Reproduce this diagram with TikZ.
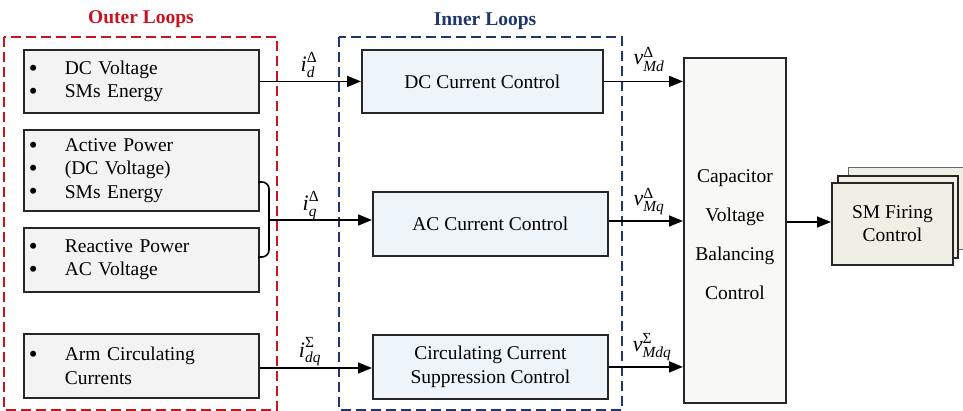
\documentclass[tikz,border=0pt]{standalone}
\usepackage{amsmath}
\usepackage{fontspec}
\setmainfont{Liberation Serif}
\usetikzlibrary{arrows.meta,calc}
\definecolor{loopred}{RGB}{200,20,30}
\definecolor{loopblue}{RGB}{30,55,110}
\definecolor{outerfill}{RGB}{243,243,243}
\definecolor{innerfill}{RGB}{238,245,250}
\definecolor{capfill}{RGB}{248,248,246}
\definecolor{smfill}{RGB}{240,239,230}
\begin{document}
\begin{tikzpicture}[x=1pt,y=-1pt,
  every node/.style={font=\fontsize{19.5}{23.3}\selectfont},
  outerbox/.style={draw=black!85,line width=1.8pt,fill=outerfill,minimum width=235pt,
     text width=225pt,inner xsep=5pt,align=left,anchor=north west},
  innerbox/.style={draw=black!85,line width=1.8pt,fill=innerfill,align=center,anchor=north west},
  smbox/.style={draw=black!85,line width=1.8pt,fill=smfill,anchor=north west,minimum width=121pt,minimum height=82pt},
  loopframe/.style={dash pattern=on 10pt off 5pt,line width=1.7pt},
  arr/.style={-{Triangle[length=14pt,width=11pt]},line width=1.6pt,black},
  conn/.style={line width=1.6pt,black},
  sig/.style={anchor=base,inner sep=0pt,font=\fontsize{22}{26}\selectfont},
  title/.style={font=\fontsize{19.5}{23}\selectfont\bfseries}]
\useasboundingbox (0,0) rectangle (963,411);

% loop frames
\draw[loopframe,loopred] (4,37) rectangle (277,410);
\draw[loopframe,loopblue] (339,37) rectangle (622,410);
\node[title,text=loopred] (tout) at (141,19) {Outer Loops};
\node[title,text=loopblue] (tin) at (485,21) {Inner Loops};

% outer loop boxes
\newcommand{\bl}{\makebox[36pt][l]{\smash{\raisebox{-1.6pt}{\fontsize{25}{23}\selectfont\textbullet}}}}
\node[outerbox,minimum height=63pt] (b1) at (23,49)
  {\bl DC Voltage\\\bl SMs Energy};
\node[outerbox,minimum height=81pt] (b2) at (23,129)
  {\bl Active Power\\\bl (DC Voltage)\\\bl SMs Energy};
\node[outerbox,minimum height=64pt] (b3) at (23,227)
  {\bl Reactive Power\\\bl AC Voltage};
\node[outerbox,minimum height=64pt] (b4) at (23,333)
  {\bl Arm Circulating\\\makebox[36pt][l]{}Currents};

% inner loop boxes
\node[innerbox,minimum width=241pt,minimum height=63pt] (dc) at (361,49) {DC Current Control};
\node[innerbox,minimum width=235pt,minimum height=64pt] (ac) at (372,191) {AC Current Control};
\node[innerbox,minimum width=235pt,minimum height=64pt] (cc) at (372,334)
  {Circulating Current\\Suppression Control};

% capacitor voltage balancing
\node[draw=black!85,line width=1.8pt,fill=capfill,anchor=north west,minimum width=102pt,
  minimum height=345pt] (cap) at (683,57) {};
\node[align=center,font=\fontsize{19.5}{39}\selectfont] (capt) at ($(cap.center)+(0,4)$)
  {Capacitor\\Voltage\\Balancing\\Control};

% SM firing stack
\node[smbox,draw=black!60,line width=1pt,minimum width=130pt] (sm3) at (848,167) {};
\node[smbox,minimum width=120pt] (sm2) at (837,175) {};
\node[smbox,align=center] (sm) at (831,182) {SM Firing\\Control};

% brace joining b2 and b3
\coordinate (bt) at (258,182);
\coordinate (bb) at (258,257);
\coordinate (bm) at (269,220);
\draw[conn,rounded corners=7pt] (bt) -- (269,182) -- (269,257) -- (bb);

% connectors
\draw[arr] (b1.east) -- (dc.west);
\draw[arr] (bm) -- (bm -| ac.west);
\draw[arr] (b4.east |- 0,368) -- (cc.west |- 0,368);
\draw[arr] (dc.east) -- (dc.east -| cap.west);
\draw[arr] (ac.east |- 0,221) -- (cap.west |- 0,221);
\draw[arr] (cc.east) -- (cc.east -| cap.west);
\draw[arr] (cap.east |- 0,222) -- (sm.west |- 0,222);

% signal labels
\node[sig] (lid) at (309,72) {$\textit{i}^{\textup{Δ}}_{\textit{d}}$};
\node[sig] (liq) at (311,211) {$\textit{i}^{\textup{Δ}}_{\textit{q}}$};
\node[sig] (lidq) at (310,357) {$\textit{i}^{\textup{Σ}}_{\textit{dq}}$};
\node[sig] (lvd) at (649,65) {$\textit{v}^{\textup{Δ}}_{\textit{Md}}$};
\node[sig] (lvq) at (649,206) {$\textit{v}^{\textup{Δ}}_{\textit{Mq}}$};
\node[sig] (lvdq) at (652,351) {$\textit{v}^{\textup{Σ}}_{\textit{Mdq}}$};
\end{tikzpicture}
\end{document}
